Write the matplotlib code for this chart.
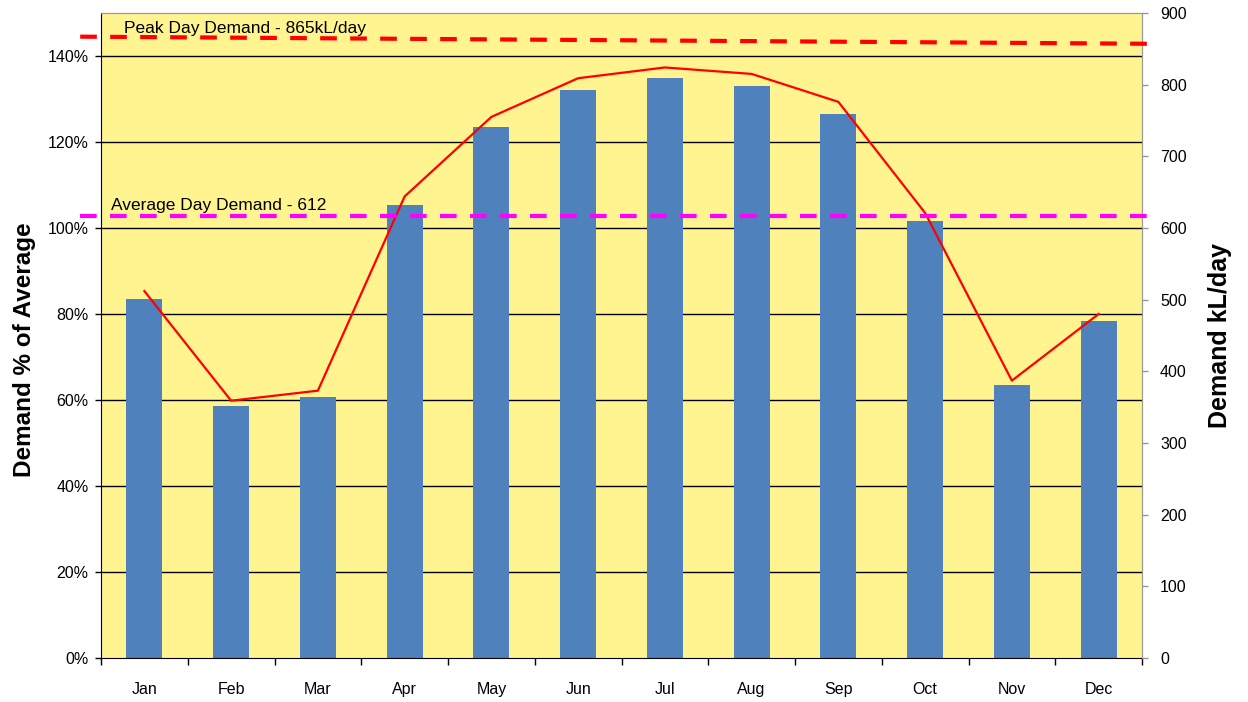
import matplotlib
matplotlib.use("Agg")
import matplotlib.pyplot as plt
from matplotlib.ticker import FuncFormatter
import matplotlib.transforms as mtransforms

plt.rcParams['font.family'] = ['Liberation Sans', 'DejaVu Sans']

months = ["Jan", "Feb", "Mar", "Apr", "May", "Jun", "Jul", "Aug", "Sep", "Oct", "Nov", "Dec"]
pct_of_avg = [83.5, 58.6, 60.8, 105.4, 123.5, 132.1, 134.9, 133.0, 126.5, 101.6, 63.5, 78.4]
demand_kl = [512, 359, 373, 644, 755, 809, 824, 815, 776, 621, 387, 480]
peak_label = "Peak Day Demand - 865kL/day"
avg_label = "Average Day Demand - 612"
peak_line = [867, 857]
avg_line = 617

fig = plt.figure(figsize=(12.48, 7.02), dpi=100)
ax = fig.add_axes([101/1248, 1-658/702, (1142-101)/1248, (658-13)/702])
ax.set_facecolor('#FFF48F')

x = list(range(len(months)))
ax.bar(x, pct_of_avg, width=0.415, color='#4F81BD', zorder=2)
ax.set_xlim(-0.5, 11.5)
ax.set_ylim(0, 150)
ax.set_yticks(range(0, 141, 20))
ax.yaxis.set_major_formatter(FuncFormatter(lambda v, p: f"{int(v)}%"))
ax.set_xticks(x)
ax.set_xticklabels(months)
ax.set_xticks([i - 0.5 for i in range(13)], minor=True)
ax.tick_params(axis='x', which='major', length=0, pad=17, labelsize=11.5)
ax.tick_params(axis='x', which='minor', length=5, width=1, direction='out')
ax.tick_params(axis='y', length=4, width=1, direction='out', labelsize=11.5, pad=5)
for yv in range(20, 141, 20):
    ax.axhline(yv, color='black', lw=1, zorder=1)
ax.spines['left'].set_color('black')
ax.spines['bottom'].set_color('black')
ax.spines['top'].set_color('#999999')
ax.spines['right'].set_color('#999999')
ax.set_ylabel("Demand % of Average", fontsize=17.5, fontweight='bold')
ax.yaxis.set_label_coords(-0.062, (658 - 350) / 645)

ax2 = ax.twinx()
ax2.set_ylim(0, 900)
ax2.set_yticks(range(0, 901, 100))
ax2.plot(x, demand_kl, color='#FF0000', lw=1.6, zorder=3)
ax2.tick_params(axis='y', length=4, width=1, direction='out', color='#999999', labelsize=11.5, pad=9)
ax2.spines['right'].set_color('#999999')
ax2.spines['top'].set_color('#999999')
ax2.spines['left'].set_visible(False)
ax2.spines['bottom'].set_visible(False)
ax2.set_ylabel("Demand kL/day", fontsize=18, fontweight='bold', labelpad=15)

trans = mtransforms.blended_transform_factory(ax2.transAxes, ax2.transData)
ax2.plot([-0.02, 1.013], peak_line, transform=trans, color='#FF0000', lw=3,
         dashes=(4, 3.2), clip_on=False, zorder=4)
ax2.plot([-0.02, 1.013], [avg_line, avg_line], transform=trans, color='#FF00FF', lw=3,
         dashes=(4, 3.2), clip_on=False, zorder=4)
ax2.text(0.022, peak_line[0] + 1, peak_label, transform=trans, fontsize=12.5, va='bottom', ha='left')
ax2.text(0.0095, avg_line + 4, avg_label, transform=trans, fontsize=12.5, va='bottom', ha='left')

fig.savefig("out.png", dpi=100)
